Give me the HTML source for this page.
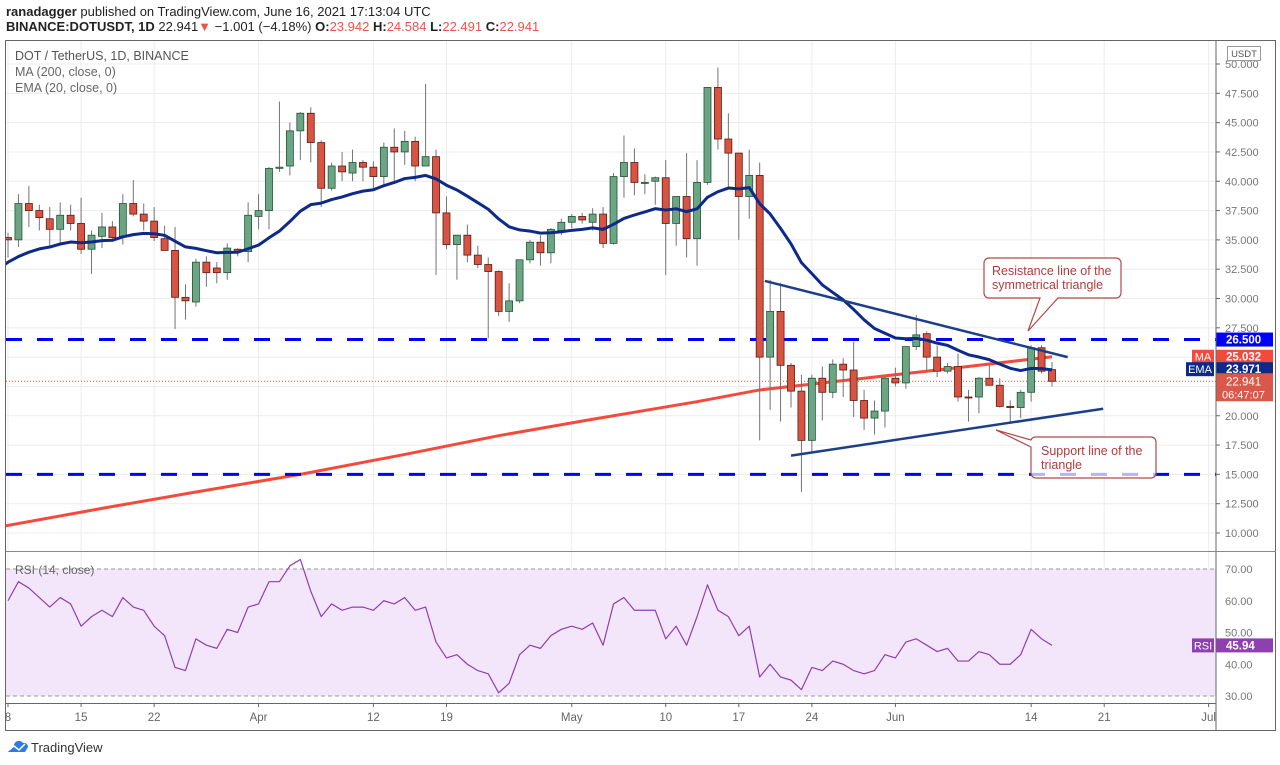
<!DOCTYPE html>
<html><head><meta charset="utf-8">
<style>
html,body{margin:0;padding:0;background:#fff;}
body{width:1280px;height:765px;overflow:hidden;font-family:"Liberation Sans",sans-serif;position:relative;}
#hdr1{position:absolute;left:6px;top:4px;font-size:13px;color:#222;white-space:nowrap;}
#hdr2{position:absolute;left:6px;top:19px;font-size:13px;color:#222;white-space:nowrap;}
.red{color:#f0524a;}
svg text{font-family:"Liberation Sans",sans-serif;}
</style></head><body>
<div id="hdr1"><b>ranadagger</b> published on TradingView.com, June 16, 2021 17:13:04 UTC</div>
<div id="hdr2"><b>BINANCE:DOTUSDT, 1D</b> 22.941<span class="red">▼</span> −1.001 (−4.18%) <b>O:</b><span class="red">23.942</span> <b>H:</b><span class="red">24.584</span> <b>L:</b><span class="red">22.491</span> <b>C:</b><span class="red">22.941</span></div>
<svg id="chart" width="1280" height="765" style="position:absolute;left:0;top:0">
<defs>
<clipPath id="mainclip"><rect x="6" y="41" width="1210" height="510"/></clipPath>
<clipPath id="rsiclip"><rect x="6" y="552" width="1210" height="151"/></clipPath>
</defs>
<g id="grid"></g>
<rect x="6" y="569" width="1210" height="127" fill="#f3e6fb"/>
<line x1="6" y1="569" x2="1216" y2="569" stroke="#999" stroke-dasharray="4,3"/>
<line x1="6" y1="696" x2="1216" y2="696" stroke="#999" stroke-dasharray="4,3"/>
<g id="main" clip-path="url(#mainclip)"></g>
<g id="rsi" clip-path="url(#rsiclip)"></g>
<g id="axes"></g>
<rect x="5.5" y="40.5" width="1270" height="690" fill="none" stroke="#666"/>
<line x1="1216" y1="40" x2="1216" y2="731" stroke="#666"/>
<line x1="6" y1="551.5" x2="1276" y2="551.5" stroke="#888"/>
<line x1="6" y1="703.5" x2="1216" y2="703.5" stroke="#666"/>
<text x="15" y="60" font-size="12.5" fill="#555">DOT / TetherUS, 1D, BINANCE</text>
<text x="15" y="76" font-size="12.5" fill="#666">MA (200, close, 0)</text>
<text x="15" y="92" font-size="12.5" fill="#666">EMA (20, close, 0)</text>
<text x="15" y="574" font-size="12" fill="#666">RSI (14, close)</text>
<rect x="1227.5" y="46.5" width="33" height="14" fill="#fff" stroke="#999"/>
<text x="1244" y="57" font-size="9.5" fill="#555" text-anchor="middle">USDT</text>
<g>
<path d="M8 752 l6 -7 a5 5 0 0 1 9 -2 a4 4 0 0 1 5 4 l-3 5 z" fill="#2a7de1"/>
<polyline points="9,750 14,746 19,750 25,744" fill="none" stroke="#fff" stroke-width="1.5"/>
<text x="31" y="752" font-size="13" fill="#333">TradingView</text>
</g>
</svg>
<script>
// Candle data, day index 0 = Mar 8 2021
const opens  =[35.2,35.0,38.1,37.5,36.8,35.9,37.1,36.4,34.2,35.3,36.1,35.3,38.1,37.2,36.6,35.1,34.1,30.1,29.7,33.1,32.6,32.2,34.2,34.0,37.0,37.5,41.1,41.3,44.3,45.8,43.3,39.4,41.3,40.7,41.6,41.2,40.4,42.9,42.5,43.4,41.3,42.1,37.3,34.6,35.4,33.7,32.9,32.3,28.9,29.8,33.3,34.8,33.9,35.8,36.5,37.0,36.5,37.2,34.7,40.4,41.6,39.9,40.0,40.3,36.4,38.7,35.1,39.9,48.0,43.6,42.4,38.7,40.5,25.0,28.9,24.3,22.1,17.9,23.2,22.0,24.4,23.9,21.3,19.8,20.4,23.2,22.8,25.9,27.0,25.0,23.8,24.2,21.6,21.6,23.2,22.6,20.8,20.7,22.0,25.8,23.94];
const highs  =[35.6,38.9,39.6,38.0,37.8,38.2,38.0,38.6,35.8,37.3,36.6,38.9,40.1,38.1,37.8,36.2,36.1,31.2,33.4,33.6,33.1,34.7,34.3,38.2,38.9,41.2,46.8,45.0,45.9,46.3,43.5,41.6,42.5,42.7,41.8,41.7,43.3,44.5,44.3,43.8,48.3,42.7,38.7,35.4,36.3,34.5,33.5,32.4,31.3,33.3,35.0,35.4,36.0,36.8,37.2,37.3,37.7,37.8,40.7,43.9,42.8,40.6,40.4,41.8,38.7,42.4,41.8,48.0,49.7,45.8,42.4,42.7,41.6,31.6,31.3,24.5,23.5,23.5,24.2,24.8,24.9,26.3,22.2,21.3,23.4,24.1,24.8,28.6,27.2,26.0,24.5,25.3,22.2,23.3,24.3,23.2,21.3,22.2,26.0,26.0,24.58];
const lows   =[33.5,34.4,36.1,35.8,34.3,34.6,35.8,33.8,32.1,34.3,34.9,34.6,37.0,35.8,34.9,34.1,27.4,28.2,29.3,31.0,31.3,31.6,33.6,33.1,35.9,35.9,40.8,40.5,41.8,41.6,37.8,39.2,40.0,40.0,40.0,39.3,39.7,40.0,41.4,40.0,41.3,32.0,34.2,31.6,33.1,32.6,26.6,28.5,28.0,29.6,33.0,32.8,33.0,35.4,36.0,36.4,35.8,34.3,34.6,38.6,38.8,38.9,38.0,32.0,34.5,33.5,32.8,39.7,42.7,39.5,35.0,36.8,17.9,20.5,19.5,20.7,13.5,16.9,19.6,21.5,21.6,19.9,18.8,18.4,19.0,22.5,22.3,25.6,23.7,23.3,23.6,21.2,19.5,20.2,22.6,20.7,19.5,19.8,21.2,23.6,22.49];
const closes =[35.0,38.1,37.5,36.9,35.9,37.1,36.4,34.2,35.4,36.1,35.2,38.1,37.2,36.6,35.2,34.1,30.1,29.8,33.1,32.2,32.2,34.3,34.0,37.1,37.5,41.1,41.2,44.3,45.8,43.3,39.4,41.3,40.8,41.6,41.2,40.4,42.9,42.5,43.4,41.3,42.1,37.3,34.6,35.4,33.7,32.9,32.3,28.9,29.8,33.3,34.8,33.9,35.9,36.5,37.0,36.7,37.2,34.7,40.4,41.6,39.9,39.9,40.3,36.4,38.7,35.1,39.9,48.0,43.6,42.4,38.7,40.5,25.0,28.9,24.3,22.1,17.9,23.2,22.0,24.4,23.9,21.3,19.8,20.4,23.2,22.8,25.9,26.9,25.0,23.8,24.2,21.6,21.55,23.2,22.6,20.8,20.7,22.0,25.8,23.8,22.941];
// 200-day MA (sampled days / values)
const maDays =[-0.3,9,18,28,38,47,56,66,72,82,90,100];
const maVals =[10.6,12.1,13.5,15.0,16.7,18.3,19.7,21.2,22.2,23.2,24.0,25.03];
// RSI(14) per day
const rsiVals=[60,66,64,61,58,61,59,52,55,57,55,61,58,57,52,49,39,38,48,46,45,51,50,58,59,66,66,71,73,63,55,59,57,58,58,57,60,59,61,57,58,47,42,43,40,38,37,31,34,43,46,45,49,51,52,51,53,46,59,61,57,57,57,48,52,46,55,65,57,55,49,52,36,40,36,35,32,39,38,41,40,38,37,38,43,42,47,48,46,44,45,41,41,44,43,40,40,43,51,48,45.94];
const priceTicks=[10,12.5,15,17.5,20,22.5,25,27.5,30,32.5,35,37.5,40,42.5,45,47.5,50];
const rsiTicks=[30,40,50,60,70];
const dateTickDays=[0,7,14,24,35,42,54,63,70,77,85,98,105,115];
const dateTickLabels=["8","15","22","Apr","12","19","May","10","17","24","Jun","14","21","Jul"];
const levels=[26.5,15];
const resistDays=[72.5,101.5], resistVals=[31.5,25.0];
const supportDays=[75,104.9], supportVals=[16.6,20.6];
const lastPrice=22.941, maLast=25.032, emaLast=23.971, rsiLast=45.94;

const NS="http://www.w3.org/2000/svg";
const X=d=>8+d*10.44;
const Y=p=>64+(50-p)*11.725;
const RY=v=>569+(70-v)*3.175;
function mk(tag,attrs,parent){const e=document.createElementNS(NS,tag);for(const k in attrs)e.setAttribute(k,attrs[k]);parent.appendChild(e);return e;}
const grid=document.getElementById('grid'),main=document.getElementById('main'),rsi=document.getElementById('rsi'),axes=document.getElementById('axes');

priceTicks.forEach(p=>{const l=mk('line',{x1:6,x2:1216,y1:Y(p),y2:Y(p),stroke:'#ececec'},grid);

});
[40,50,60].forEach(v=>{const l=mk('line',{x1:6,x2:1216,y1:RY(v),y2:RY(v),stroke:'#ececec'},grid);

});
dateTickDays.forEach(d=>{const l=mk('line',{x1:X(d),x2:X(d),y1:41,y2:703,stroke:'#ececec'},grid);

});

let pts=maDays.map((d,i)=>X(d)+','+Y(maVals[i])).join(' ');
let ma=mk('polyline',{points:pts,fill:'none',stroke:'#f44a3c','stroke-width':3,'stroke-linejoin':'round'},main);



levels.forEach(v=>{const l=mk('line',{x1:6,x2:1216,y1:Y(v),y2:Y(v),stroke:'#0000ff','stroke-width':3,'stroke-dasharray':'16,15'},main);

});
let lp=mk('line',{x1:6,x2:1216,y1:Y(lastPrice),y2:Y(lastPrice),stroke:'#e0553f','stroke-width':1,'stroke-dasharray':'1,2'},main);



closes.forEach((c,i)=>{
  const o=opens[i],h=highs[i],lo=lows[i],x=X(i),up=c>=o;
  const w=mk('line',{x1:x,x2:x,y1:Y(h),y2:Y(lo),stroke:'#737375','stroke-width':1},main);
  
  
  const top=Y(Math.max(o,c)),bh=Math.max(1,Y(Math.min(o,c))-top);
  const b=mk('rect',{x:x-3.5,y:top,width:7,height:bh,fill:up?'#6ba583':'#d75442',stroke:up?'#225437':'#5b1a13','stroke-width':0.8},main);
  
  
});

let ema=32.9,ep=[X(-0.3)+','+Y(ema)];
const a=2/21;
closes.forEach((c,i)=>{ema=ema+(c-ema)*a;ep.push(X(i)+','+Y(ema));});
let el=mk('polyline',{points:ep.join(' '),fill:'none',stroke:'#0d2a8a','stroke-width':3,'stroke-linejoin':'round'},main);



let rl=mk('line',{x1:X(resistDays[0]),y1:Y(resistVals[0]),x2:X(resistDays[1]),y2:Y(resistVals[1]),stroke:'#1c3f8a','stroke-width':2.5},main);


let sl=mk('line',{x1:X(supportDays[0]),y1:Y(supportVals[0]),x2:X(supportDays[1]),y2:Y(supportVals[1]),stroke:'#1c3f8a','stroke-width':2.5},main);



let c1=mk('path',{d:'M989 258 H1116 a5 5 0 0 1 5 5 V293 a5 5 0 0 1 -5 5 H1058 L1028 331 L1040 298 H989 a5 5 0 0 1 -5 -5 V263 a5 5 0 0 1 5 -5 z',fill:'rgba(255,255,255,0.9)',stroke:'#b04a4a','stroke-width':1.2},main);


let t1=mk('text',{x:992,y:275,'font-size':12.5,fill:'#b03c3c'},main);t1.textContent='Resistance line of the';


let t1b=mk('text',{x:992,y:289,'font-size':12.5,fill:'#b03c3c'},main);t1b.textContent='symmetrical triangle';


let c2=mk('path',{d:'M1036 437 H1151 a5 5 0 0 1 5 5 V473 a5 5 0 0 1 -5 5 H1036 a5 5 0 0 1 -5 -5 V447 L996 430 L1031 440 a5 5 0 0 1 5 -3 z',fill:'rgba(255,255,255,0.7)',stroke:'#b04a4a','stroke-width':1.2},main);


let t2=mk('text',{x:1041,y:455,'font-size':12.5,fill:'#b03c3c'},main);t2.textContent='Support line of the';


let t2b=mk('text',{x:1041,y:469,'font-size':12.5,fill:'#b03c3c'},main);t2b.textContent='triangle';



let rp=rsiVals.map((v,i)=>X(i)+','+RY(v)).join(' ');
let rl2=mk('polyline',{points:rp,fill:'none',stroke:'#8e3fb0','stroke-width':1.2,'stroke-linejoin':'round'},rsi);



priceTicks.forEach(p=>{
  if(Y(p)<45||Y(p)>548)return;
  const t=mk('line',{x1:1216,x2:1220,y1:Y(p),y2:Y(p),stroke:'#666'},axes);
  
  
  const tx=mk('text',{x:1225,y:Y(p)+4,'font-size':11,fill:'#777'},axes);tx.textContent=p.toFixed(3);
  
  
});
rsiTicks.forEach(v=>{
  const tx=mk('text',{x:1225,y:RY(v)+4,'font-size':11,fill:'#777'},axes);tx.textContent=v.toFixed(2);
  
  
});
dateTickDays.forEach((d,i)=>{
  const t=mk('line',{x1:X(d),x2:X(d),y1:703,y2:707,stroke:'#666'},axes);
  
  
  const tx=mk('text',{x:X(d),y:721,'font-size':11.5,fill:'#666','text-anchor':'middle'},axes);tx.textContent=dateTickLabels[i];
  
  
});

function tag(y,h,bg,label,name){
  const r=mk('rect',{x:1216,y:y-h/2,width:57,height:h,fill:bg},axes);
  
  
  const t=mk('text',{x:1226,y:y+4,'font-size':11.5,fill:'#fff','font-weight':'bold'},axes);t.textContent=label;
  
  
}
tag(Y(26.5),14,'#0000ff','26.500','level-tag');
tag(Y(maLast),14,'#f44a3c',maLast.toFixed(3),'ma-tag');
tag(Y(emaLast),14,'#0d2a8a',emaLast.toFixed(3),'ema-tag');
let lr=mk('rect',{x:1216,y:Y(lastPrice)-8,width:57,height:28,fill:'#d9584a'},axes);


let lt=mk('text',{x:1226,y:Y(lastPrice)+4,'font-size':11.5,fill:'#fff'},axes);lt.textContent=lastPrice.toFixed(3);


let lt2=mk('text',{x:1222,y:Y(lastPrice)+17,'font-size':11,fill:'#fff'},axes);lt2.textContent='06:47:07';


function lbl(x,y,w,bg,txt,name){
  const r=mk('rect',{x:x,y:y-7,width:w,height:14,fill:bg},axes);
  
  
  const t=mk('text',{x:x+w/2,y:y+4,'font-size':11,fill:'#fff','text-anchor':'middle'},axes);t.textContent=txt;
  
  
}
lbl(1192,Y(maLast),22,'#f44a3c','MA','ma-label');
lbl(1186,Y(emaLast),28,'#0d2a8a','EMA','ema-label');
tag(RY(rsiLast),14,'#8e3fb0',rsiLast.toFixed(2),'rsi-tag');
lbl(1192,RY(rsiLast),22,'#8e3fb0','RSI','rsi-label');
</script>
</body></html>
